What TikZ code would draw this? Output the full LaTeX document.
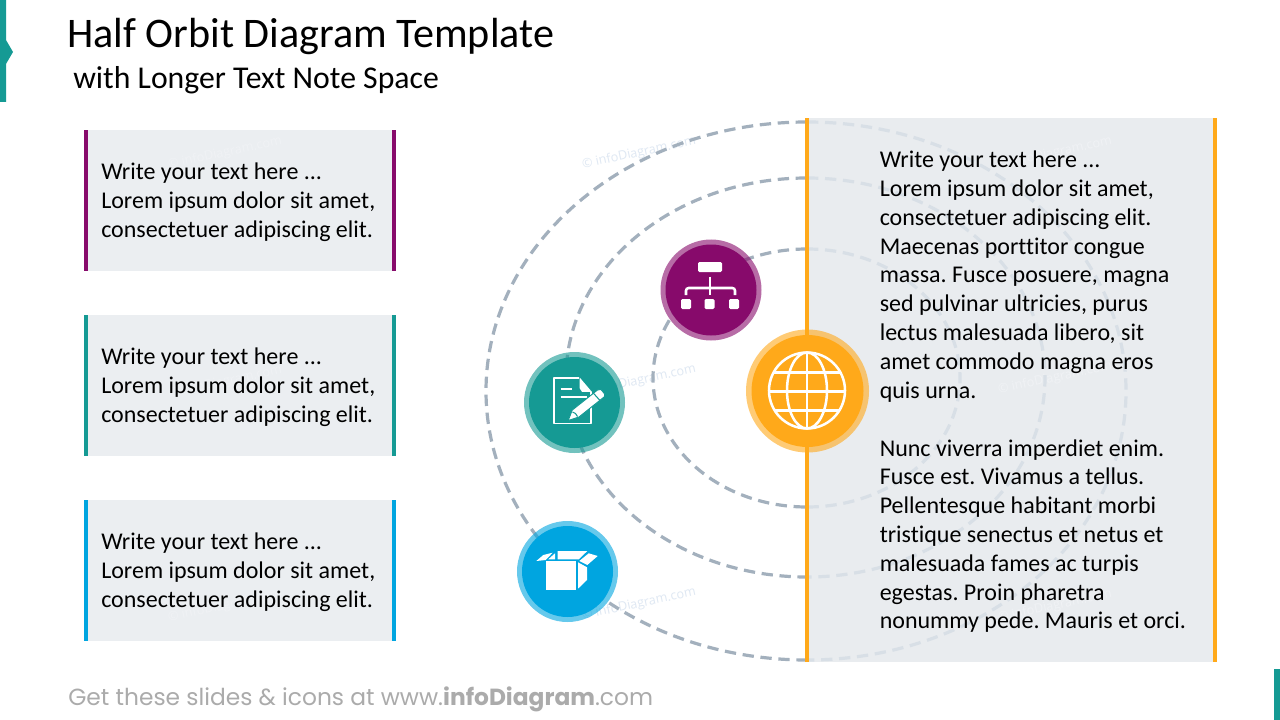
\documentclass[tikz,border=0pt]{standalone}
\usepackage{fontspec}
\setmainfont{Carlito}[Ligatures=NoCommon]
\newfontfamily\footfont{Poppins}
\newfontfamily\markfont{Open Sans}
\frenchspacing
\definecolor{boxgray}{HTML}{EBEEF1}
\definecolor{panelgray}{HTML}{E9ECEF}
\definecolor{orbitdark}{HTML}{A3B0BD}
\definecolor{orbitlight}{HTML}{D8DFE6}
\definecolor{cpurple}{HTML}{870A6B}
\definecolor{cteal}{HTML}{159A94}
\definecolor{cblue}{HTML}{00A5E0}
\definecolor{corange}{HTML}{FFA91A}
\definecolor{markblue}{HTML}{DFE8F3}
\definecolor{markpale}{HTML}{F0F2F5}
\tikzset{
  x=0.75pt,y=-0.75pt,
  orbitleft/.style={draw=orbitdark,line width=2.4pt,dash pattern=on 8.5pt off 5pt},
  orbitright/.style={draw=orbitlight,line width=2.4pt,dash pattern=on 8.5pt off 5pt},
  bodytext/.style={anchor=west,align=left,inner sep=0pt,text=black,font=\fontsize{18}{21.6}\selectfont},
  halo/.style={circle,inner sep=0pt,minimum size=#1*0.75pt,opacity=.6},
  disc/.style={circle,inner sep=0pt,minimum size=#1*0.75pt},
  wm/.style={text=markblue,rotate=12,inner sep=0pt,font=\markfont\fontsize{9.5}{11}\selectfont},
  wmpale/.style={wm,text=markpale},
  iconline/.style={draw=white,line width=1.4pt},
}
\begin{document}
\begin{tikzpicture}
\useasboundingbox (0,0) rectangle (1280,720);
\fill[white] (0,0) rectangle (1280,720);
% corner marks
\fill[cteal] (0,0) -- (6,0) -- (6,40) -- (13,52) -- (6,64) -- (6,102) -- (0,102) -- cycle;
\fill[cteal] (1274,669) rectangle (1280,720);
% titles
\node[anchor=west,inner sep=0pt,font=\fontsize{31.6}{34}\selectfont] (title) at (67,36) {Half Orbit Diagram Template};
\node[anchor=west,inner sep=0pt,font=\fontsize{23.8}{28}\selectfont] (subtitle) at (73,80) {with Longer Text Note Space};
% left boxes
\fill[boxgray] (84,130) rectangle (396,271);
\fill[boxgray] (84,315) rectangle (396,456);
\fill[boxgray] (84,500) rectangle (396,641);
\fill[cpurple] (84,130) rectangle (88,271); \fill[cpurple] (392,130) rectangle (396,271);
\fill[cteal] (84,315) rectangle (88,456); \fill[cteal] (392,315) rectangle (396,456);
\fill[cblue] (84,500) rectangle (88,641); \fill[cblue] (392,500) rectangle (396,641);
% right panel
\fill[panelgray] (807,118) rectangle (1213,662);
\fill[corange] (1213,118) rectangle (1217,662);
% watermarks
\node[wmpale] (w1) at (225,153) {© infoDiagram.com};
\node[wm] (w2) at (639,153) {© infoDiagram.com};
\node[wmpale] (w3) at (1055,153) {© infoDiagram.com};
\node[wmpale] (w4) at (225,382) {© infoDiagram.com};
\node[wm] (w5) at (639,381) {© infoDiagram.com};
\node[wmpale] (w6) at (1055,378) {© infoDiagram.com};
\node[wmpale] (w7) at (225,606) {© infoDiagram.com};
\node[wm] (w8) at (639,604) {© infoDiagram.com};
\node[wmpale] (w9) at (1055,606) {© infoDiagram.com};
% orbits
\draw[orbitright] (807,122) arc[start angle=270,end angle=450,x radius=319,y radius=269];
\draw[orbitright] (807,178) arc[start angle=270,end angle=450,x radius=238,y radius=199.5];
\draw[orbitright] (807,249) arc[start angle=270,end angle=450,x radius=153,y radius=129];
\draw[orbitleft] (807,122) arc[start angle=270,end angle=90,x radius=321,y radius=269];
\draw[orbitleft] (807,178) arc[start angle=270,end angle=90,x radius=241,y radius=199.5];
\draw[orbitleft] (807,249) arc[start angle=270,end angle=90,x radius=154,y radius=129];
\fill[corange] (805,118) rectangle (809,662);
% discs
\node[halo=101,fill=cpurple] (purplehalo) at (711,290) {};
\node[disc=91,fill=cpurple] (purple) at (711,290) {};
\node[halo=101,fill=cteal] (tealhalo) at (574.5,402.5) {};
\node[disc=91,fill=cteal] (teal) at (574.5,402.5) {};
\node[halo=101,fill=cblue] (bluehalo) at (567.5,571.5) {};
\node[disc=91,fill=cblue] (blue) at (567.5,571.5) {};
\node[halo=123,fill=corange] (orangehalo) at (807.5,391) {};
\node[disc=112,fill=corange] (orange) at (807.5,391) {};
% org chart icon
\fill[white,rounded corners=1pt] (698,262) rectangle (722,272);
\fill[white,rounded corners=1pt] (681,299) rectangle (691,309);
\fill[white,rounded corners=1pt] (704.5,299) rectangle (714.5,309);
\fill[white,rounded corners=1pt] (729,299) rectangle (739,309);
\draw[white,line width=1.9pt] (710,276.5) -- (710,294.5);
\draw[white,line width=1.9pt,rounded corners=2pt] (686,295) -- (686,288) -- (735,288) -- (735,295);
% document icon
\draw[iconline,line join=round] (579.3,377.7) -- (553.8,377.7) -- (553.8,423.5) -- (591.3,423.5) -- (591.3,405);
\draw[iconline] (591.3,400) -- (591.3,392);
\fill[white] (579.5,377.3) -- (591.8,391.8) -- (582,391.8) -- (579.5,388) -- cycle;
\draw[iconline] (560.7,389) -- (572.3,389);
\draw[iconline] (560.7,396.7) -- (587.3,396.7);
\fill[white,draw=cteal,line width=.7pt,line join=round] (568.2,420.5) -- (572.3,410) -- (597.5,390) -- (601,389.5) -- (604.7,394) -- (604.7,396.5) -- (579,417) -- cycle;
\draw[cteal,line width=.8pt] (593.5,393.3) -- (600,400.5);
\draw[cteal,line width=.8pt] (572.5,412) -- (575.5,413.5) -- (577.5,416.5);
% box icon
\fill[white] (546.3,561.3) rectangle (575.7,590);
\fill[white] (578,562.3) -- (587,567.3) -- (587,580) -- (578,588.7) -- cycle;
\fill[white] (557.7,551) -- (587.3,551) -- (578.7,559.3) -- (557.7,559.3) -- cycle;
\fill[white] (536.3,561) -- (543.3,555) -- (552.7,552.7) -- (545.7,560) -- cycle;
\fill[white] (588.7,553.3) -- (597.7,556) -- (587.3,565) -- (579.3,561) -- cycle;
\fill[white] (555,553.3) -- (555,559.3) -- (548.3,559.3) -- cycle;
% globe icon
\begin{scope}
\clip (807,390.5) circle[radius=38.5];
\draw[white,line width=1.9pt] (768,372.7) -- (846,372.7);
\draw[white,line width=1.9pt] (768,391.7) -- (846,391.7);
\draw[white,line width=1.9pt] (768,410.7) -- (846,410.7);
\end{scope}
\draw[white,line width=1.9pt] (807,390.5) circle[radius=38];
\draw[white,line width=1.9pt] (807,390.5) ellipse[x radius=20,y radius=38];
\draw[white,line width=1.9pt] (807,352.5) -- (807,428.5);
% texts
\node[bodytext] (t1) at (101,202.5) {Write your text here ...\\Lorem ipsum dolor sit amet,\\consectetuer adipiscing elit.};
\node[bodytext] (t2) at (101,387.5) {Write your text here ...\\Lorem ipsum dolor sit amet,\\consectetuer adipiscing elit.};
\node[bodytext] (t3) at (101,572.5) {Write your text here ...\\Lorem ipsum dolor sit amet,\\consectetuer adipiscing elit.};
\node[bodytext] (t4) at (879.5,276.5) {Write your text here ...\\Lorem ipsum dolor sit amet,\\consectetuer adipiscing elit.\\Maecenas porttitor congue\\massa. Fusce posuere, magna\\sed pulvinar ultricies, purus\\lectus malesuada libero, sit\\amet commodo magna eros\\quis urna.};
\node[bodytext] (t5) at (879.5,536) {Nunc viverra imperdiet enim.\\Fusce est. Vivamus a tellus.\\Pellentesque habitant morbi\\tristique senectus et netus et\\malesuada fames ac turpis\\egestas. Proin pharetra\\nonummy pede. Mauris et orci.};
\node[anchor=west,inner sep=0pt,text=black!33,font=\footfont\fontsize{17.5}{20}\selectfont] (foot) at (68,699) {Get these slides \& icons at www.{\bfseries infoDiagram}.com};
\end{tikzpicture}
\end{document}
